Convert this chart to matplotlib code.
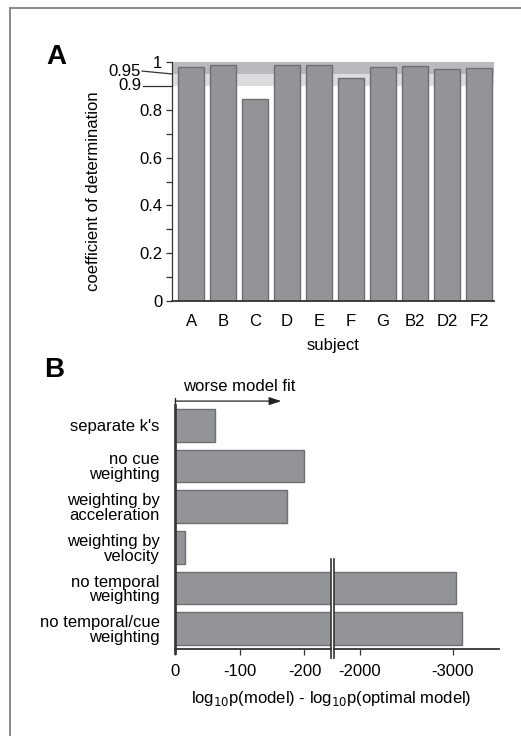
import numpy as np
import matplotlib
matplotlib.use("Agg")
import matplotlib.pyplot as plt
from matplotlib.lines import Line2D
import matplotlib.transforms as mtransforms

plt.rcParams["font.family"] = ["Liberation Sans", "DejaVu Sans"]
plt.rcParams["font.size"] = 12

# ---------- data ----------
subjects = ["A", "B", "C", "D", "E", "F", "G", "B2", "D2", "F2"]
r2 = [0.978, 0.987, 0.845, 0.987, 0.987, 0.932, 0.979, 0.983, 0.972, 0.976]

models = ["separate k's", "no cue\nweighting", "weighting by\nacceleration",
          "weighting by\nvelocity", "no temporal\nweighting", "no temporal/cue\nweighting"]
dlogp = [-62, -199, -173, -15.5, -3029, -3094]

W, H = 521, 736
bar_fc = "#939498"
bar_ec = "#6e6f72"
dark = "#333333"

fig = plt.figure(figsize=(W / 100, H / 100), dpi=100)


def fx(px):
    return px / W


def fy(py):
    return 1 - py / H


# ---------- panel A ----------
axA = fig.add_axes([fx(172), fy(301), fx(494) - fx(172), fy(62) - fy(301)])
axA.axhspan(0.95, 1.0, color="#b9babd", lw=0, zorder=0)
axA.axhspan(0.9, 0.95, color="#dcdddf", lw=0, zorder=0)
x = np.arange(len(subjects))
axA.bar(x, r2, width=0.8, color=bar_fc, edgecolor=bar_ec, linewidth=1, zorder=2)
axA.set_xlim(-0.6, 9.47)
axA.set_ylim(0, 1)
axA.set_xticks(x)
axA.set_xticklabels(subjects)
axA.tick_params(axis="x", length=0, pad=9)
axA.set_yticks([0, 0.2, 0.4, 0.6, 0.8, 1])
axA.set_yticklabels(["0", "0.2", "0.4", "0.6", "0.8", "1"])
axA.set_yticks([0.1, 0.3, 0.5, 0.7], minor=True)
axA.tick_params(axis="y", which="both", length=4, width=0.9, color=dark, pad=3)
for s in ["top", "right"]:
    axA.spines[s].set_visible(False)
axA.spines["left"].set_color(dark)
axA.spines["left"].set_linewidth(0.9)
axA.spines["bottom"].set_color(dark)
axA.spines["bottom"].set_linewidth(1.3)

# special 0.9 / 0.95 labels with leader lines
blend = mtransforms.blended_transform_factory(axA.transAxes, axA.transData)
axA.plot([-0.09, 0], [0.9, 0.9], color=dark, lw=0.9, transform=blend, clip_on=False)
axA.text(-0.095, 0.9, "0.9", transform=blend, ha="right", va="center")
axA.plot([-0.093, 0], [0.962, 0.95], color=dark, lw=0.9, transform=blend, clip_on=False)
axA.text(-0.097, 0.962, "0.95", transform=blend, ha="right", va="center")

axA.set_ylabel("coefficient of determination")
axA.yaxis.set_label_coords(-0.22, 0.46)
axA.set_xlabel("subject")
axA.xaxis.set_label_coords(0.5, -0.155)

fig.text(fx(56), fy(57), "A", fontsize=20, fontweight="bold", ha="center", va="center")

# ---------- panel B (broken x axis) ----------
b_bottom, b_top = fy(649), fy(405)
axL = fig.add_axes([fx(175), b_bottom, fx(331) - fx(175), b_top - b_bottom])
axR = fig.add_axes([fx(334), b_bottom, fx(499) - fx(334), b_top - b_bottom])
y = np.arange(len(models))
for ax in (axL, axR):
    ax.barh(y, dlogp, height=0.8, color=bar_fc, edgecolor=bar_ec, linewidth=1, zorder=2)
    ax.set_ylim(5.5, -0.5)
    for s in ["top", "right", "left"]:
        ax.spines[s].set_visible(False)
    ax.spines["bottom"].set_color(dark)
    ax.spines["bottom"].set_linewidth(1.3)
    ax.tick_params(axis="x", length=4, width=0.9, color=dark, pad=7)
    ax.patch.set_visible(False)

axL.set_xlim(0, -241)
axL.set_xticks([0, -100, -200])
axL.set_xticklabels(["0", "-100", "-200"])
axL.set_yticks(y)
axL.set_yticklabels(models, linespacing=1.0)
axL.tick_params(axis="y", length=0, pad=11)
axL.spines["left"].set_visible(True)
axL.spines["left"].set_color("#3a3a3a")
axL.spines["left"].set_linewidth(2)
axL.spines["left"].set_bounds(5.6, -0.5)

axR.set_xlim(-1720, -3495)
axR.set_xticks([-2000, -3000])
axR.set_xticklabels(["-2000", "-3000"])
axR.set_yticks([])

# break marks
axL.plot([1, 1], [-0.035, 0.37], transform=axL.transAxes, color=dark, lw=1.2, clip_on=False, zorder=5)
axR.plot([0, 0], [-0.035, 0.37], transform=axR.transAxes, color=dark, lw=1.2, clip_on=False, zorder=5)

# "worse model fit" arrow
tL = mtransforms.blended_transform_factory(axL.transData, axL.transAxes)
axL.annotate("", xy=(-164, 1.016), xytext=(0, 1.016), xycoords=tL, textcoords=tL,
             arrowprops=dict(arrowstyle="-|>,head_length=0.6,head_width=0.2",
                             color="#222222", lw=0.9, shrinkA=0, shrinkB=0),
             annotation_clip=False)
axL.plot([0, 0], [1.005, 1.027], transform=tL, color="#222222", lw=0.9, clip_on=False)
axL.text(-99, 1.074, "worse model fit", transform=tL, ha="center", va="center")

fig.text(fx(331), fy(698), r"log$_{10}$p(model) - log$_{10}$p(optimal model)",
         ha="center", va="center")
fig.text(fx(54), fy(370), "B", fontsize=20, fontweight="bold", ha="center", va="center")

# outer frame lines
fig.add_artist(Line2D([fx(10), 1], [fy(8), fy(8)], color="#8a8a8a", lw=1.4))
fig.add_artist(Line2D([fx(10), fx(10)], [fy(8), 0], color="#8a8a8a", lw=1.4))

fig.savefig("out.png", dpi=100)
